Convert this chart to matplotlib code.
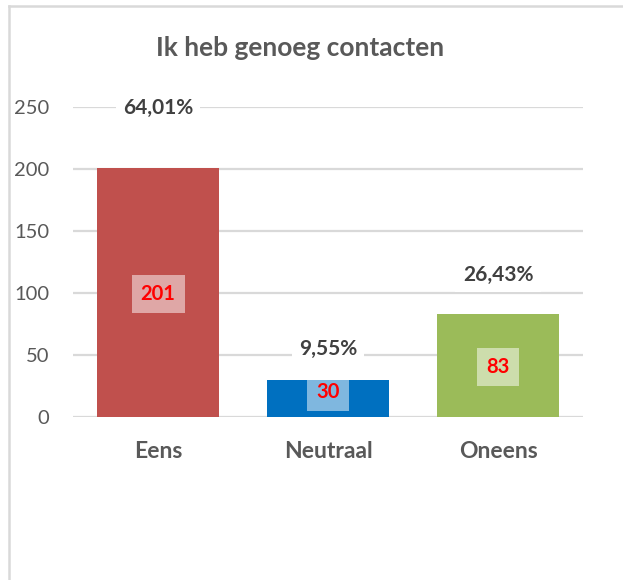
import matplotlib
matplotlib.use("Agg")
import matplotlib.pyplot as plt
from matplotlib.lines import Line2D

# Data
categories = ["Eens", "Neutraal", "Oneens"]
counts = [201, 30, 83]
percent_labels = ["64,01%", "9,55%", "26,43%"]
bar_colors = ["#C0504D", "#0070C0", "#9BBB59"]
title = "Ik heb genoeg contacten"
yticks = [0, 50, 100, 150, 200, 250]

# layout of labels (data-units y positions)
pct_label_y = [249, 55, 114.5]
val_label_y = [99.5, 20.5, 40.5]

plt.rcParams['font.family'] = ['Lato', 'DejaVu Sans']

W, H = 623, 580
fig = plt.figure(figsize=(W / 100, H / 100), dpi=100)
fig.patch.set_facecolor("white")

x0, x1 = 73, 583
y0, y1 = 417, 107
ax = fig.add_axes([x0 / W, 1 - y0 / H, (x1 - x0) / W, (y0 - y1) / H])

xs = list(range(len(categories)))
ax.bar(xs, counts, width=0.72, color=bar_colors, zorder=2)
ax.set_xlim(-0.5, len(categories) - 0.5)
ax.set_ylim(0, 250)
ax.set_yticks(yticks)
ax.set_yticklabels([str(t) for t in yticks], fontsize=14.5, color="#595959")
ax.set_xticks(xs)
ax.set_xticklabels(categories, fontsize=16.5, fontweight="bold", color="#595959")
ax.tick_params(axis="y", length=0, pad=17)
ax.tick_params(axis="x", length=0, pad=17)
ax.grid(axis="y", color="#D9D9D9", linewidth=1.6, zorder=0)
ax.set_axisbelow(True)
for s in ax.spines.values():
    s.set_visible(False)

for x, p, py in zip(xs, percent_labels, pct_label_y):
    ax.text(x, py, p, ha="center", va="center", fontsize=15, fontweight="bold",
            color="#404040", zorder=4, clip_on=False,
            bbox=dict(facecolor="white", edgecolor="none", boxstyle="square,pad=0.35"))

for x, v, vy in zip(xs, counts, val_label_y):
    ax.text(x, vy, str(v), ha="center", va="center", fontsize=14.5, fontweight="bold",
            color="#FF0000", zorder=5,
            bbox=dict(facecolor="white", alpha=0.5, edgecolor="none", boxstyle="square,pad=0.45"))

fig.text(300 / W, 1 - 48 / H, title, ha="center", va="center", fontsize=19,
         fontweight="bold", color="#595959")

# outer chart border (left and top visible)
fig.add_artist(Line2D([9 / W, 9 / W], [0, 1 - 6 / H], transform=fig.transFigure,
                      color="#D9D9D9", linewidth=1.8))
fig.add_artist(Line2D([9 / W, 1], [1 - 6 / H, 1 - 6 / H], transform=fig.transFigure,
                      color="#D9D9D9", linewidth=1.8))

fig.savefig("out.png", dpi=100)
